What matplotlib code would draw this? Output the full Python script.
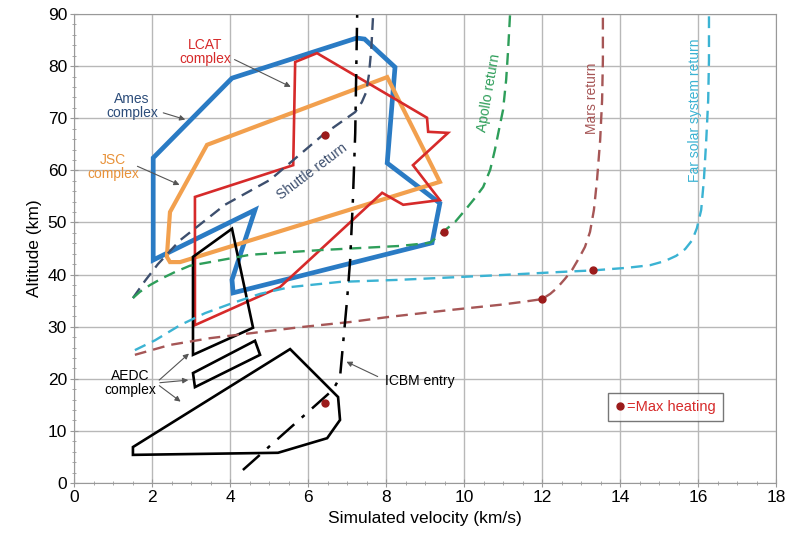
import numpy as np
import matplotlib
matplotlib.use("Agg")
import matplotlib.pyplot as plt
from matplotlib.ticker import MultipleLocator
from matplotlib.lines import Line2D

plt.rcParams["font.family"] = ["Liberation Sans", "DejaVu Sans"]

# test-facility envelopes (velocity km/s, altitude km)
AMES_V = [2.03, 4.05, 7.25, 7.45, 8.23, 8.03, 9.38, 9.18, 4.08, 4.05, 4.64, 2.03]
AMES_H = [62.4, 77.7, 85.4, 85.2, 79.8, 61.4, 53.7, 46.1, 36.5, 39.0, 52.4, 42.8]
JSC_V = [3.41, 8.03, 9.38, 2.72, 2.46, 2.38, 2.46]
JSC_H = [64.9, 77.9, 57.8, 42.4, 42.4, 43.4, 52.0]
LCAT_V = [3.10, 5.62, 5.67, 6.23, 9.05, 9.08, 9.59, 8.69, 9.38, 8.44, 7.90, 5.28, 3.10]
LCAT_H = [54.9, 61.0, 80.8, 82.5, 70.1, 67.4, 67.2, 61.0, 54.3, 53.4, 55.7, 37.6, 30.3]
AEDC1_V = [3.05, 4.05, 4.59, 3.05]
AEDC1_H = [43.4, 48.8, 29.8, 24.6]
AEDC2_V = [3.05, 4.64, 4.77, 3.10]
AEDC2_H = [21.1, 27.3, 24.6, 18.4]
AEDC3_V = [1.51, 1.51, 5.23, 6.49, 6.82, 6.77, 5.54]
AEDC3_H = [6.9, 5.4, 5.8, 8.6, 12.1, 16.5, 25.7]

# entry trajectories
SHUTTLE_V = [1.51, 1.82, 2.15, 2.72, 3.87, 5.03, 6.38, 7.21, 7.38, 7.49, 7.56, 7.62, 7.67]
SHUTTLE_H = [35.5, 38.8, 42.0, 46.6, 53.4, 58.2, 66.8, 71.2, 73.1, 75.0, 78.3, 83.1, 90.0]
APOLLO_V = [1.51, 1.69, 1.95, 2.26, 2.59, 2.97, 3.49, 4.51, 6.31, 8.36, 9.13, 9.46,
            9.77, 10.03, 10.28, 10.49, 10.67, 10.79, 10.92, 11.0, 11.08, 11.13, 11.18]
APOLLO_H = [35.5, 36.7, 38.0, 39.3, 40.5, 41.7, 42.4, 43.8, 44.7, 45.5, 46.1, 48.2,
            50.1, 52.4, 54.7, 56.8, 60.1, 63.9, 68.7, 71.6, 77.4, 83.1, 90.0]
MARS_V = [1.56, 2.46, 3.49, 4.59, 5.79, 7.08, 8.10, 9.64, 10.92, 11.44, 11.82, 12.0,
          12.21, 12.38, 12.59, 12.77, 12.95, 13.1, 13.23, 13.33, 13.41, 13.49, 13.54, 13.56, 13.56]
MARS_H = [24.6, 26.5, 27.8, 28.8, 29.9, 30.9, 31.9, 33.2, 34.2, 34.7, 35.1, 35.3,
          36.3, 37.4, 39.2, 40.9, 43.2, 45.3, 48.2, 52.4, 58.2, 65.8, 73.5, 81.2, 90.0]
FAR_V = [1.56, 2.08, 2.72, 3.36, 4.05, 4.77, 5.54, 6.82, 8.36, 10.92, 12.46, 13.3,
         14.18, 14.77, 15.15, 15.44, 15.67, 15.85, 15.97, 16.08, 16.15, 16.21, 16.26, 16.28, 16.28]
FAR_H = [25.5, 27.4, 30.3, 32.6, 34.5, 36.3, 37.6, 38.6, 39.0, 39.9, 40.5, 40.8,
         41.3, 41.8, 42.6, 43.6, 44.9, 46.6, 48.9, 52.4, 58.2, 65.8, 73.5, 81.2, 90.0]
ICBM_V = [4.33, 6.64, 6.82, 7.00, 7.08, 7.15, 7.21, 7.26]
ICBM_H = [2.5, 17.9, 20.3, 35.1, 42.8, 54.3, 67.2, 90.0]

# max-heating points
HEAT_V = [6.44, 9.49, 12.0, 13.3, 6.44]
HEAT_H = [66.8, 48.2, 35.3, 40.8, 15.4]

BLUE = "#2a7bc4"
ORANGE = "#f2a04e"
RED = "#d62a2a"
SLATE = "#3d4f6e"
GREEN = "#2e9e5a"
MARS = "#a65656"
TEAL = "#3bb3d3"
DOT = "#9b1b1b"
ARROW = "#555555"

fig = plt.figure(figsize=(7.91, 5.41), dpi=100)
ax = fig.add_axes([0.0936, 0.1072, 0.8875, 0.8668])

dash = (0, (5, 3))
ax.plot(SHUTTLE_V, SHUTTLE_H, color=SLATE, lw=1.7, ls=dash)
ax.plot(APOLLO_V, APOLLO_H, color=GREEN, lw=1.7, ls=dash)
ax.plot(MARS_V, MARS_H, color=MARS, lw=1.7, ls=dash)
ax.plot(FAR_V, FAR_H, color=TEAL, lw=1.7, ls=dash)
ax.plot(ICBM_V, ICBM_H, color="black", lw=1.8, ls=(0, (9, 4, 1.5, 4)))


def envelope(v, h, color, lw):
    ax.fill(v, h, fill=False, edgecolor=color, lw=lw, joinstyle="miter")


envelope(AMES_V, AMES_H, BLUE, 3.4)
envelope(JSC_V, JSC_H, ORANGE, 3.0)
envelope(LCAT_V, LCAT_H, RED, 1.9)
envelope(AEDC1_V, AEDC1_H, "black", 1.9)
envelope(AEDC2_V, AEDC2_H, "black", 1.9)
envelope(AEDC3_V, AEDC3_H, "black", 1.9)

ax.plot(HEAT_V, HEAT_H, ls="", marker="o", ms=5, color=DOT, zorder=5)

# labels and callouts
def callout(text, xy_text, targets, color, fs=10):
    ax.text(*xy_text, text, color=color, fontsize=fs, ha="center", va="center",
            linespacing=1.0)
    for start, end in targets:
        ax.annotate("", xy=end, xytext=start,
                    arrowprops=dict(arrowstyle="-|>", color=ARROW, lw=0.8,
                                    mutation_scale=8))


callout("LCAT\ncomplex", (3.36, 82.7), [((4.05, 81.5), (5.62, 75.8))], RED)
callout("Ames\ncomplex", (1.49, 72.4), [((2.22, 71.2), (2.92, 69.6))], "#2d4d7a")
callout("JSC\ncomplex", (1.0, 60.7), [((1.56, 61.0), (2.77, 57.0))], "#e8923a")
callout("AEDC\ncomplex", (1.44, 19.2),
        [((2.13, 19.4), (3.0, 25.2)), ((2.13, 19.2), (3.0, 19.8)),
         ((2.13, 19.0), (2.79, 15.3))], "black")
ax.text(8.87, 19.6, "ICBM entry", fontsize=10, ha="center", va="center")
ax.annotate("", xy=(6.92, 23.5), xytext=(7.85, 20.2),
            arrowprops=dict(arrowstyle="-|>", color=ARROW, lw=0.8, mutation_scale=8))

ax.text(6.1, 59.7, "Shuttle return", color=SLATE, fontsize=10, rotation=37,
        ha="center", va="center")
ax.text(10.65, 74.9, "Apollo return", color=GREEN, fontsize=10, rotation=80,
        ha="center", va="center")
ax.text(13.28, 73.9, "Mars return", color=MARS, fontsize=10, rotation=90,
        ha="center", va="center")
ax.text(15.92, 71.6, "Far solar system return", color=TEAL, fontsize=10, rotation=90,
        ha="center", va="center")

leg = ax.legend(handles=[Line2D([], [], ls="", marker="o", ms=5, color=DOT,
                                label="=Max heating")],
                loc="center", bbox_to_anchor=(0.843, 0.162), frameon=True,
                fancybox=False, edgecolor="#555555", handlelength=0.6,
                handletextpad=0.2, borderpad=0.5, fontsize=10.5)
leg.get_frame().set_linewidth(1.0)
for t in leg.get_texts():
    t.set_color(RED)

ax.set_xlim(0, 18)
ax.set_ylim(0, 90)
ax.xaxis.set_major_locator(MultipleLocator(2))
ax.xaxis.set_minor_locator(MultipleLocator(0.5))
ax.yaxis.set_major_locator(MultipleLocator(10))
ax.yaxis.set_minor_locator(MultipleLocator(2))
ax.grid(True, which="major", color="#b8b8b8", lw=1.0)
ax.set_axisbelow(True)
for s in ax.spines.values():
    s.set_color("#999999")
ax.tick_params(which="major", direction="inout", length=6, color="#999999",
               labelsize=12.5, pad=2)
ax.tick_params(which="minor", direction="inout", length=3, color="#999999")
ax.set_xlabel("Simulated velocity (km/s)", fontsize=12.5)
ax.set_ylabel("Altitude (km)", fontsize=12.5, labelpad=4)

fig.savefig("out.png", dpi=100)
